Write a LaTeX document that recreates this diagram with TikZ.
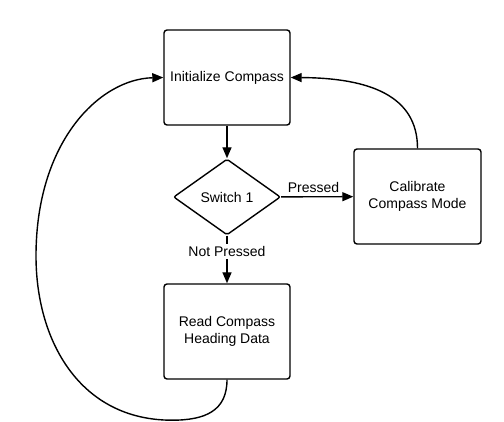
\documentclass[tikz,border=0pt]{standalone}
\usepackage{fontspec}
\setmainfont{Liberation Sans}
\usetikzlibrary{shapes.geometric,arrows.meta}

\begin{document}
\begin{tikzpicture}[x=1pt, y=1pt, font=\fontsize{14}{17}\selectfont,
    stepbox/.style={rectangle, draw, line width=1.4pt, rounded corners=3pt,
        minimum width=126pt, minimum height=95pt, align=center},
    choice/.style={diamond, draw, line width=1.4pt, rounded corners=2pt,
        minimum width=107pt, minimum height=76pt, aspect=1.4, inner sep=0pt},
    arr/.style={line width=1.4pt, -{Triangle[length=11pt, width=9pt]}}]
                \useasboundingbox (0,0) rectangle (504,421);
                % Nodes
                \node[stepbox] (init) at (227,343.5) {Initialize Compass};
                \node[choice] (switch) at (227,224) {Switch 1};
                \node[stepbox, minimum width=127pt] (calib) at (417.5,224.5) {Calibrate\\Compass Mode};
                \node[stepbox] (read) at (227,89.5) {Read Compass\\Heading Data};
                
                % Edges
                \draw[arr] (init) -- (switch);
                \draw[arr] (switch) -- node[above, pos=0.45] {Pressed} (calib);
                \draw[arr] (switch) -- node[fill=white, inner sep=2pt, pos=0.33] {Not Pressed} (read);
                \draw[arr] (calib.north) .. controls (417.5,325) and (370,343) .. (init.east);
                \draw[arr] (read.south) .. controls (227,10) and (205,0.8) .. (172,0.8)
                    .. controls (80,0.8) and (36,80) .. (36,165)
                    .. controls (36,280) and (100,342) .. (init.west);
            \end{tikzpicture}
\end{document}
